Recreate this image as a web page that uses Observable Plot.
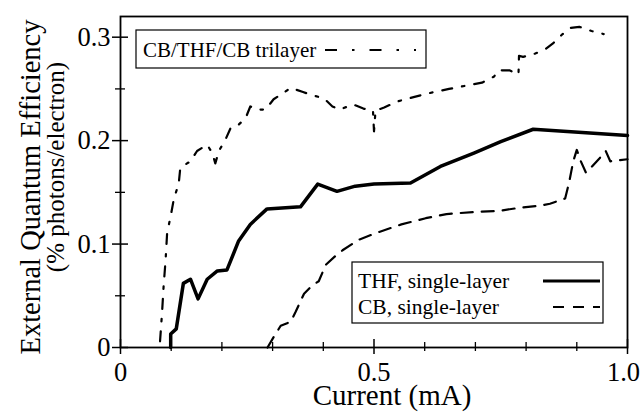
<!DOCTYPE html>
<html>
<head>
<meta charset="utf-8">
<script src="https://cdn.jsdelivr.net/npm/d3@7"></script>
<script src="https://cdn.jsdelivr.net/npm/@observablehq/plot@0.6"></script>
<style>
  html, body { margin: 0; padding: 0; background: white; }
  #chart { width: 640px; height: 412px; }
</style>
</head>
<body>
<div id="chart"></div>
<script>
// ---- data ----
const thfX = [0.099, 0.099, 0.11, 0.124, 0.138, 0.153, 0.171, 0.191, 0.210, 0.233, 0.256, 0.289, 0.355, 0.389, 0.427, 0.463, 0.50, 0.572, 0.631, 0.697, 0.75, 0.814, 1.0];
const thfY = [0, 0.013, 0.018, 0.062, 0.066, 0.047, 0.066, 0.074, 0.075, 0.103, 0.119, 0.134, 0.136, 0.158, 0.151, 0.156, 0.158, 0.159, 0.175, 0.188, 0.199, 0.211, 0.205];

const cbX = [0.29, 0.302, 0.316, 0.336, 0.345, 0.362, 0.378, 0.391, 0.405, 0.425, 0.438, 0.469, 0.506, 0.554, 0.602, 0.643, 0.697, 0.745, 0.786, 0.826, 0.847, 0.877, 0.885, 0.893, 0.9, 0.908, 0.918, 0.93, 0.945, 0.957, 0.966, 1.0];
const cbY = [0, 0.010, 0.021, 0.025, 0.034, 0.052, 0.060, 0.064, 0.080, 0.089, 0.094, 0.104, 0.111, 0.119, 0.125, 0.129, 0.131, 0.132, 0.135, 0.137, 0.139, 0.144, 0.160, 0.180, 0.191, 0.180, 0.169, 0.175, 0.183, 0.190, 0.180, 0.182];

const triX = [0.078, 0.082, 0.085, 0.089, 0.092, 0.099, 0.105, 0.115, 0.118, 0.138, 0.151, 0.171, 0.181, 0.187, 0.194, 0.207, 0.217, 0.23, 0.247, 0.256, 0.27, 0.286, 0.302, 0.336, 0.36, 0.377, 0.401, 0.418, 0.432, 0.459, 0.479, 0.498, 0.500, 0.503, 0.52, 0.547, 0.578, 0.61, 0.648, 0.68, 0.713, 0.737, 0.745, 0.767, 0.785, 0.786, 0.794, 0.817, 0.837, 0.853, 0.872, 0.888, 0.905, 0.929, 0.953];
const triY = [0.006, 0.034, 0.059, 0.085, 0.111, 0.127, 0.143, 0.159, 0.174, 0.180, 0.190, 0.196, 0.188, 0.178, 0.190, 0.201, 0.212, 0.214, 0.222, 0.233, 0.230, 0.230, 0.240, 0.251, 0.247, 0.244, 0.241, 0.233, 0.230, 0.235, 0.231, 0.229, 0.209, 0.229, 0.232, 0.238, 0.242, 0.246, 0.250, 0.253, 0.256, 0.262, 0.268, 0.268, 0.264, 0.282, 0.281, 0.284, 0.288, 0.294, 0.303, 0.309, 0.310, 0.306, 0.303];

const xMajor = [0, 0.5, 1.0];
const xMajorLabels = ["0", "0.5", "1.0"];
const xMinor = [0.1, 0.2, 0.3, 0.4, 0.6, 0.7, 0.8, 0.9];
const yMajor = [0, 0.1, 0.2, 0.3];
const yMajorLabels = ["0", "0.1", "0.2", "0.3"];
const yMinor = [0.05, 0.15, 0.25];

const xTitle = "Current (mA)";
const yTitle = "External Quantum Efficiency";
const ySubtitle = "(% photons/electron)";
const legendTri = "CB/THF/CB trilayer";
const legendTHF = "THF, single-layer";
const legendCB = "CB, single-layer";

const thf = thfX.map((x, i) => ({x, y: thfY[i]}));
const cb = cbX.map((x, i) => ({x, y: cbY[i]}));
const tri = triX.map((x, i) => ({x, y: triY[i]}));

const serif = "Liberation Serif, DejaVu Serif, serif";
const xLab = d => xMajorLabels[xMajor.indexOf(d)];
const yLab = d => yMajorLabels[yMajor.indexOf(d)];

const chart = Plot.plot({
  width: 640,
  height: 412,
  marginLeft: 120,
  marginRight: 13,
  marginTop: 16,
  marginBottom: 65,
  x: {domain: [0, 1]},
  y: {domain: [0, 0.32]},
  style: {fontFamily: serif, fontSize: "26.5px", background: "white", color: "black"},
  marks: [
    Plot.line(tri, {x: "x", y: "y", stroke: "black", strokeWidth: 2.2, strokeDasharray: "10,10,2.5,10", strokeLinejoin: "round"}),
    Plot.line(cb, {x: "x", y: "y", stroke: "black", strokeWidth: 2.2, strokeDasharray: "12,9"}),
    Plot.line(thf, {x: "x", y: "y", stroke: "black", strokeWidth: 3.5, strokeLinejoin: "round"}),
    Plot.frame({stroke: "black", strokeWidth: 1.8}),
    Plot.axisX(xMajor, {tickSize: 15, dy: -8, fill: "none", strokeWidth: 1.5}),
    Plot.axisX(xMinor, {tickSize: 9, dy: -5, fill: "none", strokeWidth: 1.3}),
    Plot.axisX(xMajor.slice(0, 2), {tickSize: 0, tickPadding: 15, stroke: "none", label: null,
      fontFamily: serif, fontSize: 26.5, tickFormat: xLab}),
    Plot.axisX(xMajor.slice(2), {tickSize: 0, tickPadding: 15, dx: -4, stroke: "none", label: null,
      fontFamily: serif, fontSize: 26.5, tickFormat: xLab}),
    Plot.axisY(yMajor, {tickSize: 16, dx: 8, fill: "none", strokeWidth: 1.5}),
    Plot.axisY(yMinor, {tickSize: 10, dx: 5, fill: "none", strokeWidth: 1.3}),
    Plot.axisY(yMajor, {tickSize: 0, tickPadding: 10, stroke: "none", label: null,
      fontFamily: serif, fontSize: 26.5, tickFormat: yLab})
  ]
});

document.getElementById("chart").appendChild(chart);

// ---- titles and legends ----
const svg = d3.select(chart).attr("font-family", serif);
const tg = svg.append("g").attr("font-family", serif).attr("fill", "black");

tg.append("text").attr("x", 392).attr("y", 405).attr("text-anchor", "middle")
  .attr("font-size", 29).text(xTitle);
tg.append("text").attr("transform", "translate(40,187) rotate(-90)").attr("text-anchor", "middle")
  .attr("font-size", 28.5).text(yTitle);
tg.append("text").attr("transform", "translate(64,167) rotate(-90)").attr("text-anchor", "middle")
  .attr("font-size", 25).text(ySubtitle);

// legend 1
const lg1 = svg.append("g").attr("font-family", serif).attr("text-anchor", "start");
lg1.append("rect").attr("x", 136).attr("y", 30).attr("width", 290).attr("height", 38)
  .attr("fill", "white").attr("stroke", "black").attr("stroke-width", 1.2);
lg1.append("text").attr("x", 143).attr("y", 57).attr("font-size", 21).attr("text-anchor", "start").text(legendTri);
lg1.append("line").attr("x1", 325).attr("x2", 416).attr("y1", 50).attr("y2", 50)
  .attr("stroke", "black").attr("stroke-width", 2.2).attr("stroke-dasharray", "12,15,2.5,15");

// legend 2
const lg2 = svg.append("g").attr("font-family", serif).attr("text-anchor", "start");
lg2.append("rect").attr("x", 352).attr("y", 262).attr("width", 251).attr("height", 61)
  .attr("fill", "white").attr("stroke", "black").attr("stroke-width", 1.2);
lg2.append("text").attr("x", 358).attr("y", 288).attr("font-size", 21.5).attr("text-anchor", "start").text(legendTHF);
lg2.append("text").attr("x", 358).attr("y", 314).attr("font-size", 21.5).attr("text-anchor", "start").text(legendCB);
lg2.append("line").attr("x1", 543).attr("x2", 600).attr("y1", 281).attr("y2", 281)
  .attr("stroke", "black").attr("stroke-width", 3);
lg2.append("line").attr("x1", 553).attr("x2", 600).attr("y1", 307).attr("y2", 307)
  .attr("stroke", "black").attr("stroke-width", 2.2).attr("stroke-dasharray", "11,9");
</script>
</body>
</html>
